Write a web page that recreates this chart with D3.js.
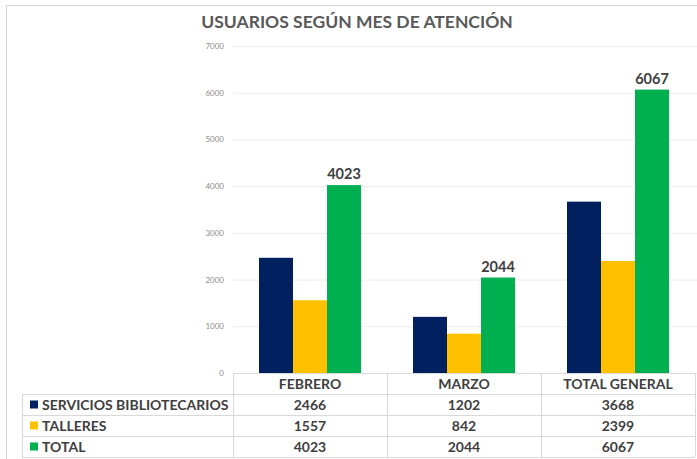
<!DOCTYPE html>
<html>
<head>
<meta charset="utf-8">
<script src="https://cdn.jsdelivr.net/npm/d3@7"></script>
<style>
    body { margin: 0; background: #fff; }
    text { font-family: Lato, "Open Sans", sans-serif; }
</style>
</head>
<body>
<svg width="697" height="459"></svg>
<script>
const categories = ["FEBRERO", "MARZO", "TOTAL GENERAL"];
const seriesNames = ["SERVICIOS BIBLIOTECARIOS", "TALLERES", "TOTAL"];
const servicios = [2466, 1202, 3668];
const talleres = [1557, 842, 2399];
const totales = [4023, 2044, 6067];
const yTicks = [0, 1000, 2000, 3000, 4000, 5000, 6000, 7000];
const colors = ["#002060", "#FFC000", "#00B050"];

const seriesValues = [servicios, talleres, totales];

const svg = d3.select("svg");

// outer chart frame (only top and left show)
svg.append("path")
    .attr("d", "M6.5,459V5.5H697")
    .attr("fill", "none")
    .attr("stroke", "#d4d4d4");

svg.append("text")
    .attr("x", 357)
    .attr("y", 28)
    .attr("text-anchor", "middle")
    .attr("font-size", 17.5)
    .attr("font-weight", "bold")
    .attr("fill", "#595959")
    .text("USUARIOS SEGÚN MES DE ATENCIÓN");

const x = d3.scaleBand(categories, [233, 695]);
const xs = d3.scaleBand(d3.range(seriesNames.length), [26, 128]);
const y = d3.scaleLinear([0, 7000], [373, 46]);

// y axis with gridlines
const yAxis = svg.append("g")
    .attr("transform", "translate(233,0)")
    .call(d3.axisLeft(y)
        .tickValues(yTicks)
        .tickSize(-(695 - 233 + 2))
        .tickPadding(9)
        .tickFormat(d3.format("d")));
yAxis.select(".domain").remove();
yAxis.selectAll("line").attr("stroke", "#ececec");
yAxis.selectAll("text")
    .attr("fill", "#8c8c8c")
    .attr("font-size", 8)
    .style("font-family", "Lato, sans-serif");

// bars
const groups = svg.append("g")
    .selectAll("g")
    .data(categories)
    .join("g")
    .attr("transform", d => `translate(${x(d)},0)`);

groups.selectAll("rect")
    .data((d, i) => seriesValues.map((s, k) => ({k: k, v: s[i]})))
    .join("rect")
    .attr("x", d => xs(d.k))
    .attr("width", xs.bandwidth())
    .attr("y", d => y(d.v))
    .attr("height", d => y(0) - y(d.v))
    .attr("fill", d => colors[d.k]);

// data labels on TOTAL
svg.append("g")
    .selectAll("text")
    .data(categories)
    .join("text")
    .attr("x", (d, i) => x(d) + xs(2) + xs.bandwidth() / 2)
    .attr("y", (d, i) => y(totales[i]) - 6)
    .attr("text-anchor", "middle")
    .attr("font-size", 14.5)
    .attr("font-weight", "bold")
    .attr("fill", "#404040")
    .text((d, i) => totales[i]);

// data table
const rowY = d3.scaleBand(d3.range(seriesNames.length + 1), [373, 457]);
const tableLeft = 22;
const grid = svg.append("g")
    .attr("stroke", "#d9d9d9")
    .attr("fill", "none");

grid.append("line")
    .attr("x1", 233).attr("x2", 695)
    .attr("y1", 373.5).attr("y2", 373.5);
d3.range(1, seriesNames.length + 2).forEach(r => {
    const yy = r <= seriesNames.length ? rowY(r) : 457;
    grid.append("line")
        .attr("x1", tableLeft).attr("x2", 695)
        .attr("y1", Math.round(yy) + 0.5).attr("y2", Math.round(yy) + 0.5);
});
grid.append("line")
    .attr("x1", tableLeft + 0.5).attr("x2", tableLeft + 0.5)
    .attr("y1", rowY(1)).attr("y2", 457);
categories.forEach(c => {
    grid.append("line")
        .attr("x1", x(c) + 0.5).attr("x2", x(c) + 0.5)
        .attr("y1", 373).attr("y2", 457);
});
grid.append("line")
    .attr("x1", 695.5).attr("x2", 695.5)
    .attr("y1", 373).attr("y2", 457);

const table = svg.append("g")
    .attr("font-size", 14)
    .attr("font-weight", "bold")
    .attr("fill", "#404040");

table.selectAll(".hdr")
    .data(categories)
    .join("text")
    .attr("class", "hdr")
    .attr("x", d => x(d) + x.bandwidth() / 2)
    .attr("y", rowY(0) + rowY.bandwidth() / 2 + 5)
    .attr("text-anchor", "middle")
    .text(d => d);

seriesNames.forEach((name, k) => {
    const cy = rowY(k + 1) + rowY.bandwidth() / 2;
    table.append("rect")
        .attr("x", 30)
        .attr("y", cy - 4)
        .attr("width", 8)
        .attr("height", 8)
        .attr("fill", colors[k]);
    table.append("text")
        .attr("x", 42)
        .attr("y", cy + 5)
        .text(name);
    table.selectAll(".v" + k)
        .data(categories)
        .join("text")
        .attr("class", "v" + k)
        .attr("x", d => x(d) + x.bandwidth() / 2)
        .attr("y", cy + 5)
        .attr("text-anchor", "middle")
        .text((d, i) => seriesValues[k][i]);
});
</script>
</body>
</html>
